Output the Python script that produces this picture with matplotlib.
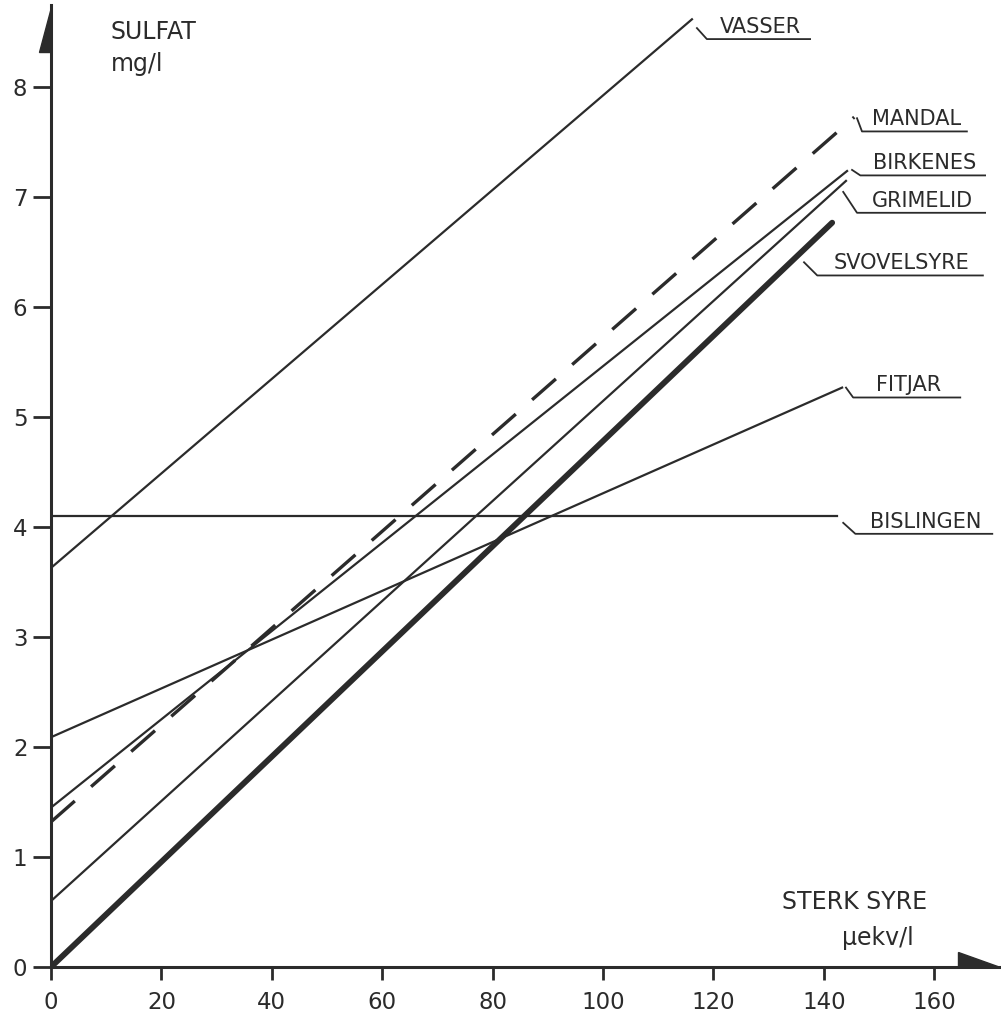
import numpy as np
import matplotlib
matplotlib.use("Agg")
import matplotlib.pyplot as plt
from matplotlib.patches import Polygon

# lines: start at x=0, end at x_end
names = ["VASSER", "MANDAL", "BIRKENES", "GRIMELID", "SVOVELSYRE", "FITJAR", "BISLINGEN"]
x_end = [116.1, 145.5, 144.2, 144.0, 141.5, 143.3, 142.4]
y_start = [3.63, 1.32, 1.45, 0.60, 0.0, 2.09, 4.10]
y_end = [8.62, 7.73, 7.24, 7.15, 6.77, 5.27, 4.10]
styles = ["solid", "dashed", "solid", "solid", "thick", "solid", "solid"]

# label leaders: start point, underline y, underline from/to
lead_x = [117.0, 146.0, 145.1, 143.5, 136.4, 144.0, 143.5]
lead_y = [8.54, 7.72, 7.25, 7.05, 6.41, 5.27, 4.04]
und_x0 = [118.8, 146.9, 146.6, 146.0, 138.8, 145.3, 145.7]
und_x1 = [137.5, 165.9, 169.2, 169.2, 168.8, 164.7, 170.5]
und_y = [8.44, 7.60, 7.20, 6.86, 6.29, 5.18, 3.94]

x_ticks = [0, 20, 40, 60, 80, 100, 120, 140, 160]
y_ticks = [0, 1, 2, 3, 4, 5, 6, 7, 8]

col = "#2b2b2b"
xmax, ymax = 171.9, 8.75

fig = plt.figure(figsize=(10.01, 10.18), dpi=100)
ax = fig.add_axes([51/1001, 51/1018, 949/1001, 962/1018])
ax.set_xlim(0, xmax)
ax.set_ylim(0, ymax)

for i in range(len(names)):
    xs = [0, x_end[i]]
    ys = [y_start[i], y_end[i]]
    if styles[i] == "dashed":
        ax.plot(xs, ys, color=col, lw=2.4, linestyle=(0, (9.5, 6.5)), solid_capstyle="butt")
    elif styles[i] == "thick":
        ax.plot(xs, ys, color=col, lw=4.2, solid_capstyle="round")
    else:
        ax.plot(xs, ys, color=col, lw=1.6)
    # leader + underline
    ax.plot([lead_x[i], und_x0[i], und_x1[i]], [lead_y[i], und_y[i], und_y[i]],
            color=col, lw=1.3, clip_on=False)
    ax.text((und_x0[i] + und_x1[i]) / 2 + 0.3, und_y[i] + 0.055, names[i],
            ha="center", va="baseline", fontsize=15, color=col)

# axes
for s in ["top", "right"]:
    ax.spines[s].set_visible(False)
for s in ["left", "bottom"]:
    ax.spines[s].set_linewidth(2.2)
    ax.spines[s].set_color(col)

ax.set_xticks(x_ticks)
ax.set_yticks(y_ticks)
ax.tick_params(axis="y", direction="out", length=13, width=2, pad=4,
               labelsize=16.5, colors=col)
ax.tick_params(axis="x", direction="out", length=9.5, width=2, pad=8,
               labelsize=16.5, colors=col)

# half arrow heads
ax.add_patch(Polygon([[0, ymax - 0.02], [0, 8.32], [-2.2, 8.32]], closed=True,
                     color=col, clip_on=False))
ax.add_patch(Polygon([[xmax, 0], [164.3, 0], [164.3, 0.14]], closed=True,
                     color=col, clip_on=False))

# axis titles
ax.text(10.8, 8.5, "SULFAT", fontsize=17, color=col, va="center", ha="left")
ax.text(10.8, 8.21, "mg/l", fontsize=17, color=col, va="center", ha="left")
ax.text(145.6, 0.59, "STERK SYRE", fontsize=17, color=col, va="center", ha="center")
ax.text(149.7, 0.26, "μekv/l", fontsize=17, color=col, va="center", ha="center")

fig.savefig("out.png", dpi=100)
